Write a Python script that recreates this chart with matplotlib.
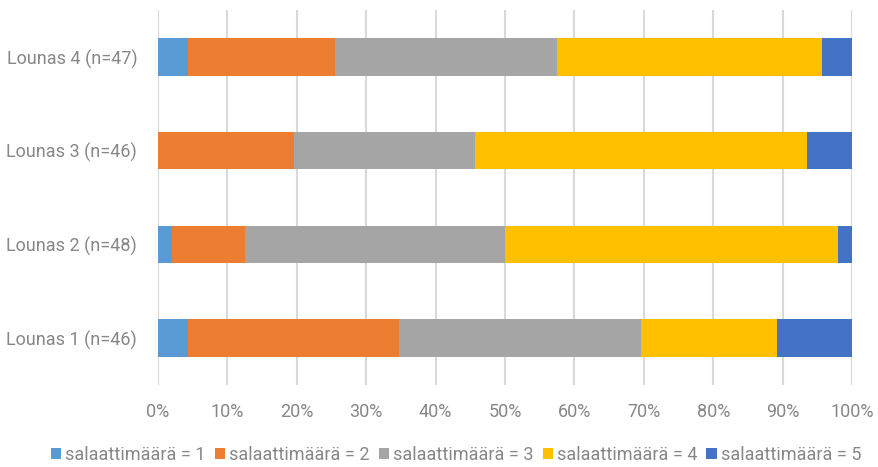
import matplotlib
matplotlib.use("Agg")
import matplotlib.pyplot as plt
from matplotlib.patches import Patch
import numpy as np

categories = ["Lounas 1 (n=46)", "Lounas 2 (n=48)", "Lounas 3 (n=46)", "Lounas 4 (n=47)"]
series_names = ["salaattimäärä = 1", "salaattimäärä = 2", "salaattimäärä = 3",
                "salaattimäärä = 4", "salaattimäärä = 5"]
# answer counts per lunch, one list per salad amount
count_1 = [2, 1, 0, 2]
count_2 = [14, 5, 9, 10]
count_3 = [16, 18, 12, 15]
count_4 = [9, 23, 22, 18]
count_5 = [5, 1, 3, 2]
colors = ["#5B9BD5", "#ED7D31", "#A5A5A5", "#FFC000", "#4472C4"]
xtick_labels = [f"{v}%" for v in range(0, 101, 10)]

plt.rcParams["font.family"] = ["Roboto", "DejaVu Sans"]
text_color = "#878787"
fs = 13

counts = np.array([count_1, count_2, count_3, count_4, count_5], dtype=float)
shares = counts / counts.sum(axis=0) * 100

fig = plt.figure(figsize=(8.79, 4.67), dpi=100)
ax = fig.add_axes([158 / 879, 1 - 385 / 467, (852 - 158) / 879, 375 / 467])

y = np.arange(len(categories))
left = np.zeros(len(categories))
for share, col in zip(shares, colors):
    ax.barh(y, share, left=left, height=0.40, color=col, zorder=3)
    left += share

ax.set_xlim(0, 100)
ax.set_ylim(-0.5, 3.5)
ax.set_xticks(np.arange(0, 101, 10))
ax.set_xticklabels(xtick_labels)
ax.set_yticks(y)
ax.set_yticklabels(categories)
ax.grid(axis="x", color="#D9D9D9", linewidth=1.5, zorder=0)
ax.tick_params(axis="both", length=0, labelsize=fs, labelcolor=text_color)
ax.tick_params(axis="x", pad=13)
ax.tick_params(axis="y", pad=15)
for s in ax.spines.values():
    s.set_visible(False)

handles = [Patch(facecolor=c, edgecolor="none") for c in colors]
fig.legend(handles, series_names, loc="center", bbox_to_anchor=(456 / 879, 1 - 455 / 467),
           ncol=5, frameon=False, fontsize=fs, handlelength=0.6, handleheight=0.6,
           handletextpad=0.2, columnspacing=0.5, labelcolor=text_color)

fig.savefig("out.png", dpi=100)
